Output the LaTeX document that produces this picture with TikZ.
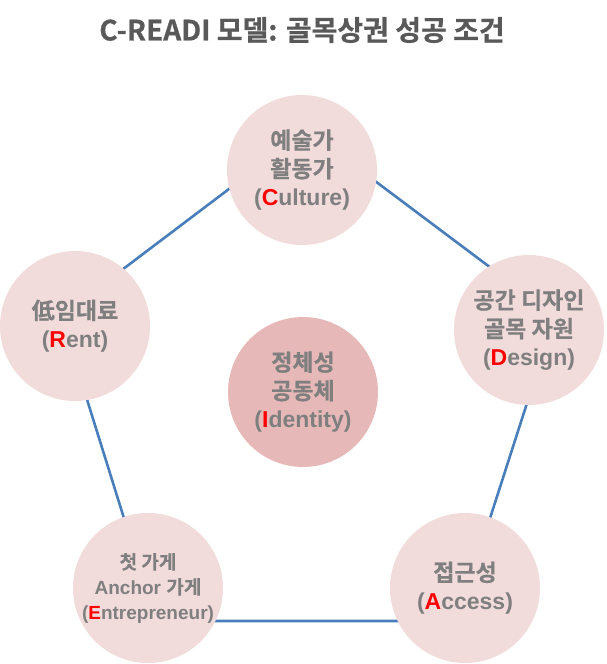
\documentclass[tikz,border=0pt]{standalone}
\usepackage{fontspec}
\setmainfont{Liberation Sans}
\newfontfamily\kr{Noto Sans CJK KR}[BoldFont=* Bold,BoldFeatures={FakeBold=0.6}]
\definecolor{txtgray}{HTML}{7F7F7F}
\definecolor{titlegray}{HTML}{595959}
\definecolor{ringfill}{HTML}{F2DCDB}
\definecolor{corefill}{HTML}{E6B9B8}
\definecolor{edgeblue}{HTML}{4A7EBB}
\newcommand{\keyl}[1]{{\color{red}#1}}
\begin{document}
\begin{tikzpicture}[x=1pt,y=-1pt,
	ring/.style={circle,fill=ringfill,minimum size=150pt,inner sep=0pt},
	lbl/.style={align=center,text=txtgray,font=\bfseries\fontsize{23}{28.5}\selectfont},
	edge/.style={edgeblue,line width=2.6pt,line join=round}]
	\useasboundingbox (0,0) rectangle (606,664);
	\node[font=\kr\bfseries\fontsize{28}{32}\selectfont,text=titlegray] (title) at (302,30) {C-READI 모델: 골목상권 성공 조건};
	\coordinate (pT) at (307,130);
	\coordinate (pR) at (555,316);
	\coordinate (pBR) at (457,621);
	\coordinate (pBL) at (156,621);
	\coordinate (pL) at (61,316);
	\draw[edge] (pT) -- (pR) -- (pBR) -- (pBL) -- (pL) -- cycle;
	\node[ring] (cul) at (302,170) {};
	\node[ring] (des) at (529,330) {};
	\node[ring] (acc) at (465,588) {};
	\node[ring] (ent) at (148,588) {};
	\node[ring] (ren) at (75,326) {};
	\node[ring,fill=corefill] (ide) at (303,392) {};
	\node[lbl] at (cul) {{\kr 예술가}\\{\kr 활동가}\\(\keyl{C}ulture)};
	\node[lbl] at (des) {{\kr 공간 디자인}\\{\kr 골목 자원}\\(\keyl{D}esign)};
	\node[lbl] at (acc) {{\kr 접근성}\\(\keyl{A}ccess)};
	\node[lbl,font=\bfseries\fontsize{19}{25}\selectfont] at (ent) {{\kr 첫 가게}\\Anchor {\kr 가게}\\(\keyl{E}ntrepreneur)};
	\node[lbl] at (ren) {{\kr 低임대료}\\(\keyl{R}ent)};
	\node[lbl] at (ide) {{\kr 정체성}\\{\kr 공동체}\\(\keyl{I}dentity)};
\end{tikzpicture}
\end{document}
